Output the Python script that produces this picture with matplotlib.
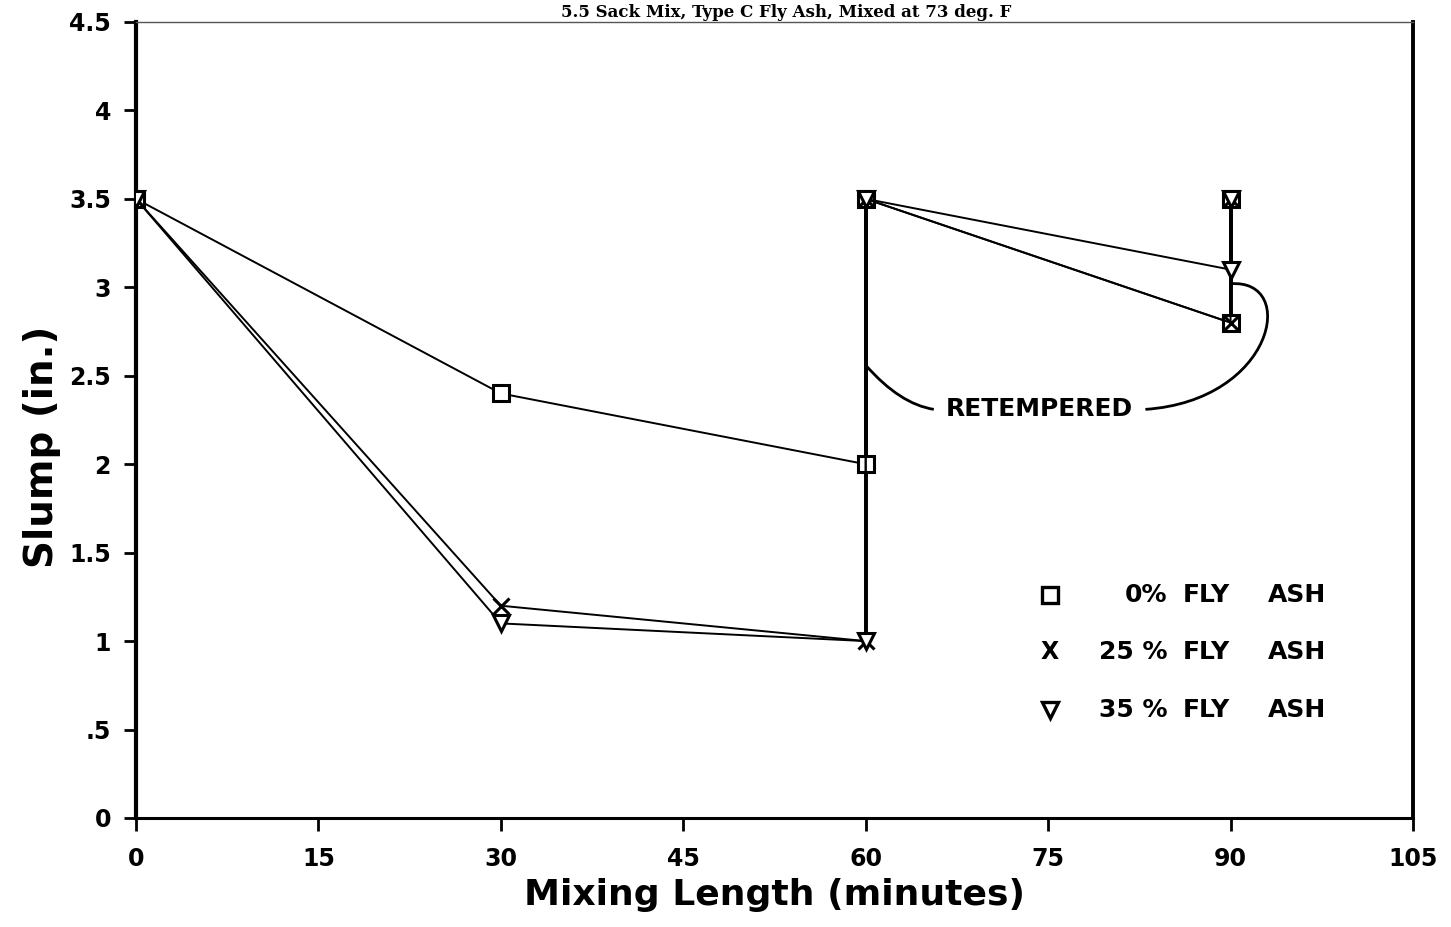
import matplotlib
matplotlib.use("Agg")
import matplotlib.pyplot as plt
from matplotlib.path import Path
from matplotlib.patches import PathPatch

# Mixing time (minutes); the repeated 60 and 90 entries are the retempering steps
time_min = [0, 30, 60, 60, 90, 90]
slump_0pct = [3.5, 2.4, 2.0, 3.5, 2.8, 3.5]
slump_25pct = [3.5, 1.2, 1.0, 3.5, 2.8, 3.5]
slump_35pct = [3.5, 1.1, 1.0, 3.5, 3.1, 3.5]

series_labels = ["0%", "25 %", "35 %"]
series_markers = ["s", "x", "v"]

x_ticks = [0, 15, 30, 45, 60, 75, 90, 105]
y_ticks = [0, 0.5, 1, 1.5, 2, 2.5, 3, 3.5, 4, 4.5]
y_tick_labels = ["0", ".5", "1", "1.5", "2", "2.5", "3", "3.5", "4", "4.5"]

title_text = "5.5 Sack Mix, Type C Fly Ash, Mixed at 73 deg. F"

fig = plt.figure(figsize=(14.51, 9.27), dpi=100)
ax = fig.add_axes([0.0937, 0.1176, 0.8801, 0.8587])

series = [slump_0pct, slump_25pct, slump_35pct]
for vals, mk in zip(series, series_markers):
    ax.plot(time_min, vals, color="black", lw=1.4, marker=mk,
            markersize=11 if mk != "x" else 12,
            markerfacecolor="white" if mk != "x" else "black",
            markeredgecolor="black", markeredgewidth=2.2, zorder=3)
    # the vertical retempering jumps are drawn heavier
    for t in (60, 90):
        idx = [i for i, tt in enumerate(time_min) if tt == t]
        ax.plot([time_min[i] for i in idx], [vals[i] for i in idx],
                color="black", lw=2.6, zorder=2)

ax.set_xlim(0, 105)
ax.set_ylim(0, 4.5)
ax.set_xticks(x_ticks)
ax.set_xticklabels([str(t) for t in x_ticks])
ax.set_yticks(y_ticks)
ax.set_yticklabels(y_tick_labels)

for lab in ax.get_xticklabels() + ax.get_yticklabels():
    lab.set_fontfamily("DejaVu Sans")
    lab.set_fontweight("bold")
    lab.set_fontsize(17)
ax.tick_params(axis="both", direction="out", length=9, width=2, color="black")
ax.tick_params(axis="x", pad=12)
ax.tick_params(axis="y", pad=9)

ax.spines["left"].set_linewidth(3)
ax.spines["bottom"].set_linewidth(2.2)
ax.spines["right"].set_linewidth(2.8)
ax.spines["top"].set_linewidth(1)
ax.spines["top"].set_color("#555555")

ax.set_xlabel("Mixing Length (minutes)", fontsize=26, fontweight="bold", labelpad=5)
ax.set_ylabel("Slump (in.)", fontsize=28, fontweight="bold")
ax.yaxis.set_label_coords(-0.059, 0.466)

# Title squeezed into the narrow band above the plot frame
fig.text(0.542, 1 - 17 / 927, title_text, ha="center", va="baseline",
         fontsize=12, fontweight="bold", family="DejaVu Serif")

# Retempered callout
ax.text(74.3, 2.31, "RETEMPERED", ha="center", va="center",
        fontsize=18, fontweight="bold")
left_curve = Path([(60, 2.56), (62.8, 2.34), (65.6, 2.31)],
                  [Path.MOVETO, Path.CURVE3, Path.CURVE3])
right_curve = Path([(83.0, 2.31), (93.6, 2.36), (95.6, 3.05), (90, 3.02)],
                   [Path.MOVETO, Path.CURVE4, Path.CURVE4, Path.CURVE4])
for p in (left_curve, right_curve):
    ax.add_patch(PathPatch(p, facecolor="none", edgecolor="black", lw=2.0, zorder=2))

# Legend drawn as marker + label rows
legend_rows_y = [0.2802, 0.2085, 0.1357]
for lbl, mk, yy in zip(series_labels, series_markers, legend_rows_y):
    if mk == "x":
        ax.text(0.7157, yy, "X", transform=ax.transAxes, ha="center", va="center",
                fontsize=17, fontweight="bold")
    else:
        ax.plot([0.7157], [yy], transform=ax.transAxes, marker=mk, markersize=11,
                markerfacecolor="white", markeredgecolor="black", markeredgewidth=2.4,
                linestyle="none", clip_on=False)
    ax.text(0.8074, yy, lbl, transform=ax.transAxes, ha="right", va="center",
            fontsize=18, fontweight="bold")
    ax.text(0.8199, yy, "FLY", transform=ax.transAxes, ha="left", va="center",
            fontsize=18, fontweight="bold")
    ax.text(0.8865, yy, "ASH", transform=ax.transAxes, ha="left", va="center",
            fontsize=18, fontweight="bold")

fig.savefig("out.png", dpi=100)
